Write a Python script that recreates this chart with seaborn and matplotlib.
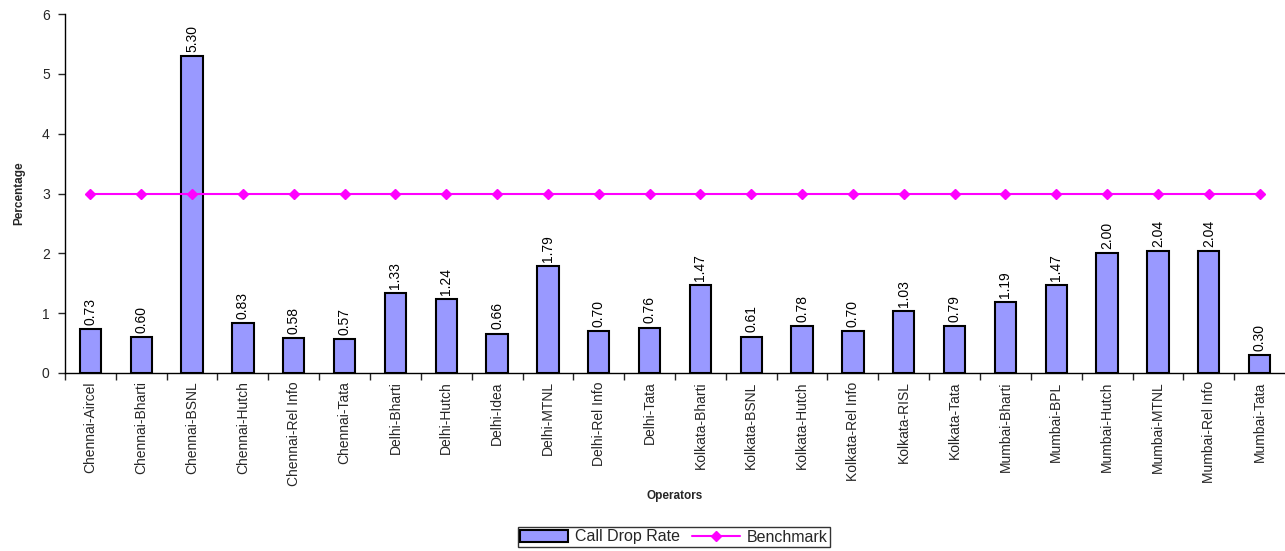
import matplotlib
matplotlib.use("Agg")
import matplotlib.pyplot as plt
from matplotlib.patches import Patch
from matplotlib.lines import Line2D
import seaborn as sns
import pandas as pd
import numpy as np

operators = ["Chennai-Aircel", "Chennai-Bharti", "Chennai-BSNL", "Chennai-Hutch", "Chennai-Rel Info",
             "Chennai-Tata", "Delhi-Bharti", "Delhi-Hutch", "Delhi-Idea", "Delhi-MTNL",
             "Delhi-Rel Info", "Delhi-Tata", "Kolkata-Bharti", "Kolkata-BSNL", "Kolkata-Hutch",
             "Kolkata-Rel Info", "Kolkata-RISL", "Kolkata-Tata", "Mumbai-Bharti", "Mumbai-BPL",
             "Mumbai-Hutch", "Mumbai-MTNL", "Mumbai-Rel Info", "Mumbai-Tata"]
call_drop_rate = [0.73, 0.60, 5.30, 0.83, 0.58, 0.57, 1.33, 1.24, 0.66, 1.79,
                  0.70, 0.76, 1.47, 0.61, 0.78, 0.70, 1.03, 0.79, 1.19, 1.47,
                  2.00, 2.04, 2.04, 0.30]
benchmark = [3] * len(operators)

sns.set_theme(style="white")
plt.rcParams['font.family'] = ['Liberation Sans', 'DejaVu Sans']

df = pd.DataFrame({"Operator": operators, "Rate": call_drop_rate, "Benchmark": benchmark})

fig = plt.figure(figsize=(12.85, 5.51), dpi=100)
ax = fig.add_axes([65/1285, 1-373/551, (1285-65)/1285, (373-14)/551])

bar_color = "#9999FF"
line_color = "#FF00FF"
sns.barplot(data=df, x="Operator", y="Rate", ax=ax, color=bar_color, saturation=1,
            edgecolor="black", linewidth=1.5, width=0.42, legend=False)
x = np.arange(len(operators))
ax.plot(x, df["Benchmark"], color=line_color, marker="D", markersize=5, linewidth=1.5, zorder=3)

for xi, v in zip(x, call_drop_rate):
    ax.text(xi, v + 0.07, f"{v:.2f}", rotation=90, ha="center", va="bottom", fontsize=10, color="black")

ax.set_xlim(-0.5, len(operators) - 0.5)
ax.set_ylim(0, 6)
ax.set_yticks(range(0, 7))
ax.set_xticks(x)
ax.set_xticklabels(operators, rotation=90, fontsize=10)
ax.tick_params(axis="y", labelsize=10, length=5, width=1, direction="out", left=True, pad=6)
ax.tick_params(axis="x", length=0, pad=6)
ax.set_xticks(np.arange(-0.5, len(operators) - 1), minor=True)
ax.tick_params(axis="x", which="minor", length=5, width=1, direction="out", bottom=True)

for s in ["top", "right"]:
    ax.spines[s].set_visible(False)
for s in ["left", "bottom"]:
    ax.spines[s].set_color("black")
    ax.spines[s].set_linewidth(1)

ax.set_ylabel("Percentage", fontsize=8.5, fontweight="bold", labelpad=12)
ax.set_xlabel("Operators", fontsize=8.5, fontweight="bold", labelpad=3)

handles = [Patch(facecolor=bar_color, edgecolor="black", linewidth=1.5),
           Line2D([0], [0], color=line_color, marker="D", markersize=5, linewidth=1.5)]
leg = fig.legend(handles, ["Call Drop Rate", "Benchmark"], loc="center",
                 bbox_to_anchor=(674/1285, 1-537/551), ncol=2, fontsize=11.5,
                 frameon=True, fancybox=False, edgecolor="black", handlelength=3,
                 handleheight=0.8, borderpad=0.15, columnspacing=0.8, handletextpad=0.4)
leg.get_frame().set_linewidth(1)

fig.savefig("out.png", dpi=100)
